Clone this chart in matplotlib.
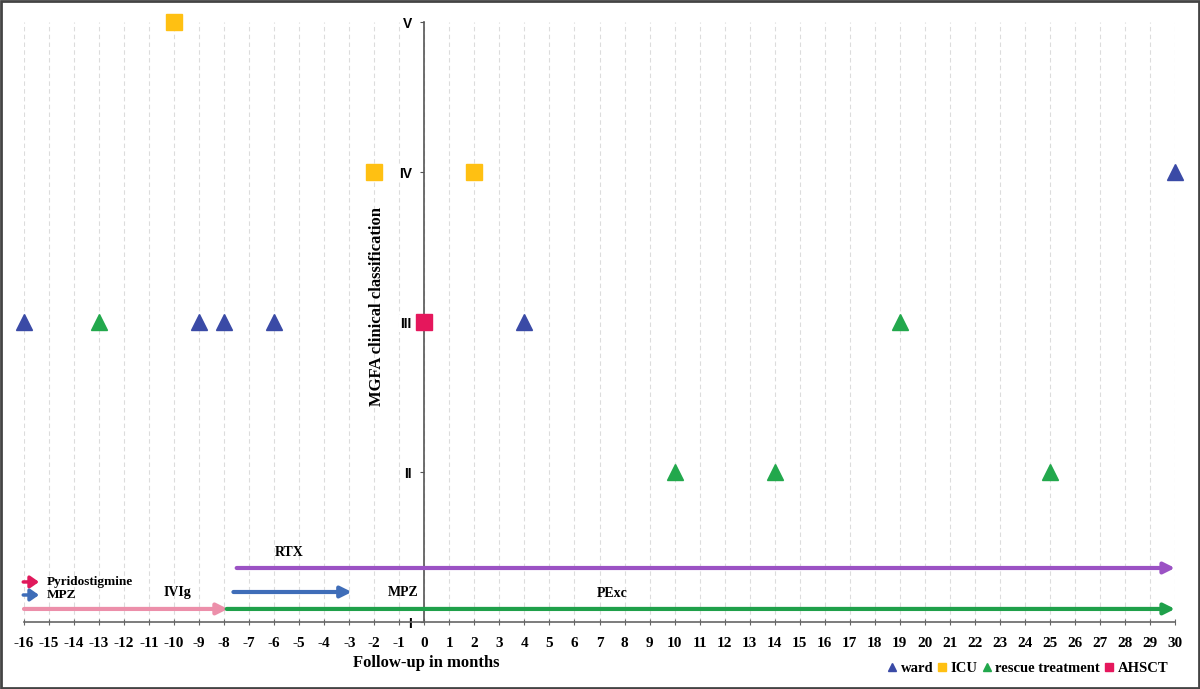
import matplotlib
matplotlib.use("Agg")
import matplotlib.pyplot as plt
from matplotlib.lines import Line2D
from matplotlib.patches import Rectangle

# ---- data ----
ward_x = [-16, -9, -8, -6, 4, 30]
ward_y = [3, 3, 3, 3, 3, 4]
icu_x = [-10, -2, 2]
icu_y = [5, 4, 4]
rescue_x = [-13, 19, 10, 14, 25]
rescue_y = [3, 3, 2, 2, 2]
ahsct_x = [0]
ahsct_y = [3]

# treatment arrows: (start, end, level, colour)
arrow_names = ["RTX", "MPZ", "IVIg", "PExc"]
arrow_start = [-7.5, -7.63, -16, -7.9]
arrow_end = [30, -2.9, -7.85, 30]
arrow_level = [1.36, 1.2, 1.087, 1.087]
arrow_colors = ["#9B52C4", "#3F6DB8", "#EC8FAA", "#1FA04A"]

label_texts = ["RTX", "IVIg", "MPZ", "PExc"]
label_x = [-5.4, -9.87, -0.84, 7.5]
label_y = [1.46, 1.195, 1.195, 1.19]

xticks = list(range(-16, 31))
yticks = [1, 2, 3, 4, 5]
ytick_labels = ["I", "II", "III", "IV", "V"]

serif = "Liberation Serif"
sans = "Liberation Sans"

fig = plt.figure(figsize=(12, 6.89), dpi=100)
ax = fig.add_axes([24 / 1200, 1 - 622 / 689, 1151 / 1200, 600 / 689])
ax.set_xlim(-16, 30)
ax.set_ylim(1, 5)

# grid
for x in xticks:
    ax.axvline(x, color="#dcdcdc", lw=0.8, ls=(0, (4, 3)), zorder=0)

# spines
for s in ["top", "right"]:
    ax.spines[s].set_visible(False)
ax.spines["left"].set_position(("data", 0))
ax.spines["left"].set_color("#555555")
ax.spines["left"].set_linewidth(1.2)
ax.spines["bottom"].set_color("#666666")
ax.spines["bottom"].set_linewidth(1.2)

ax.set_xticks(xticks)
ax.set_xticklabels([str(x) for x in xticks], fontfamily=serif, fontweight="bold", fontsize=11)
ax.tick_params(axis="x", direction="inout", length=5, color="#666666", pad=8)
ax.set_yticks(yticks)
ax.set_yticklabels(ytick_labels, fontfamily=sans, fontweight="bold", fontsize=10)
ax.tick_params(axis="y", direction="out", length=3, color="#555555", pad=6)
for t in ax.get_yticklabels():
    t.set_bbox(dict(facecolor="white", edgecolor="none", pad=1))

# arrows
for s, e, lvl, c in zip(arrow_start, arrow_end, arrow_level, arrow_colors):
    ax.annotate("", xy=(e, lvl), xytext=(s, lvl),
                arrowprops=dict(arrowstyle="-|>", color=c, lw=3, mutation_scale=16,
                                shrinkA=0, shrinkB=0), annotation_clip=False, zorder=3)

for t, x, y in zip(label_texts, label_x, label_y):
    ax.text(x, y, t, ha="center", va="center", fontfamily=serif, fontweight="bold", fontsize=10)

# small legend arrows at top-left
leg_arrow_names = ["Pyridostigmine", "MPZ"]
leg_arrow_level = [1.267, 1.18]
leg_arrow_colors = ["#E0195C", "#3F6DB8"]
for name, lvl, c in zip(leg_arrow_names, leg_arrow_level, leg_arrow_colors):
    ax.annotate("", xy=(-15.4, lvl), xytext=(-16.03, lvl),
                arrowprops=dict(arrowstyle="-|>,head_length=0.5,head_width=0.35", color=c, lw=2.5,
                                mutation_scale=10, shrinkA=0, shrinkB=0), annotation_clip=False)
    ax.text(-15.1, lvl, name, ha="left", va="center", fontfamily=serif, fontweight="bold", fontsize=9.5)

# markers
ms = 12
ax.plot(ward_x, ward_y, ls="none", marker="^", ms=ms, color="#3A4AA6", clip_on=False, zorder=5)
ax.plot(icu_x, icu_y, ls="none", marker="s", ms=ms, color="#FFC012", clip_on=False, zorder=5)
ax.plot(rescue_x, rescue_y, ls="none", marker="^", ms=ms, color="#22A84C", clip_on=False, zorder=5)
ax.plot(ahsct_x, ahsct_y, ls="none", marker="s", ms=ms, color="#E5175C", clip_on=False, zorder=5)

# axis titles
fig.text(377 / 1200, 1 - 306 / 689, "MGFA clinical classification", rotation=90,
         ha="center", va="center", fontfamily=serif, fontweight="bold", fontsize=12)
fig.text(426 / 1200, 1 - 663 / 689, "Follow-up in months", ha="center", va="center",
         fontfamily=serif, fontweight="bold", fontsize=12)

# bottom-right legend
handles = [
    Line2D([], [], ls="none", marker="^", ms=6, color="#3A4AA6"),
    Line2D([], [], ls="none", marker="s", ms=6, color="#FFC012"),
    Line2D([], [], ls="none", marker="^", ms=6, color="#22A84C"),
    Line2D([], [], ls="none", marker="s", ms=6, color="#E5175C"),
]
labels = ["ward", "ICU", "rescue treatment", "AHSCT"]
fig.legend(handles, labels, ncol=4, loc="center", bbox_to_anchor=(1028 / 1200, 1 - 668 / 689),
           frameon=False, handlelength=0.6, handletextpad=0.3, columnspacing=0.3,
           prop=dict(family=serif, weight="bold", size=10.5))

# outer frame
fig.patches.append(Rectangle((0.001, 0.002), 0.998, 0.996, transform=fig.transFigure,
                             fill=False, edgecolor="#444444", lw=2))

fig.savefig("out.png", dpi=100)
